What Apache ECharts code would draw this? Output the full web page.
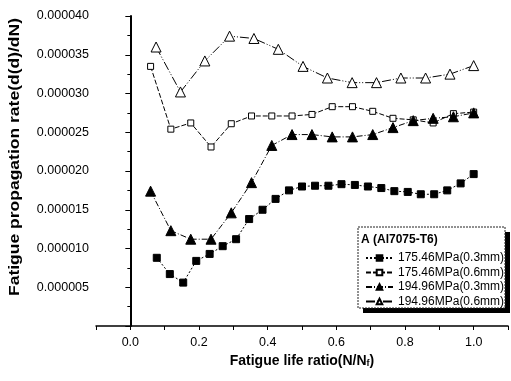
<!DOCTYPE html>
<html>
<head>
<meta charset="utf-8">
<script src="https://cdn.jsdelivr.net/npm/echarts@6/dist/echarts.min.js"></script>
<style>
  html, body { margin: 0; padding: 0; background: #fff; }
  #chart { width: 511px; height: 381px; }
</style>
</head>
<body>
<div id="chart"></div>
<script>
// Fatigue life ratio N/Nf for each test series
const ratio175_03 = [0.077, 0.115, 0.154, 0.192, 0.231, 0.269, 0.308, 0.346, 0.385, 0.423,
  0.462, 0.500, 0.538, 0.577, 0.615, 0.654, 0.692, 0.731, 0.769, 0.808, 0.846, 0.885, 0.923, 0.962, 1.000];
const ratio17pts = [0.059, 0.118, 0.176, 0.235, 0.294, 0.353, 0.412, 0.471, 0.529, 0.588,
  0.647, 0.706, 0.765, 0.824, 0.882, 0.941, 1.000];
const ratio195_06 = [0.075, 0.146, 0.217, 0.289, 0.360, 0.431, 0.503, 0.574, 0.646, 0.717,
  0.788, 0.860, 0.931, 1.000];

// Crack propagation rate d(d)/dN
const rate175_03 = [8.8e-6, 6.7e-6, 5.6e-6, 8.4e-6, 9.3e-6, 10.3e-6, 11.2e-6, 13.8e-6, 15.0e-6, 16.4e-6,
  17.5e-6, 18.0e-6, 18.1e-6, 18.1e-6, 18.3e-6, 18.2e-6, 18.0e-6, 17.8e-6, 17.4e-6, 17.3e-6,
  17.0e-6, 17.0e-6, 17.5e-6, 18.4e-6, 19.6e-6];
const rate175_06 = [33.5e-6, 25.4e-6, 26.2e-6, 23.1e-6, 26.1e-6, 27.1e-6, 27.1e-6, 27.1e-6, 27.3e-6,
  28.3e-6, 28.3e-6, 27.7e-6, 26.8e-6, 26.6e-6, 26.2e-6, 27.4e-6, 27.6e-6];
const rate195_03 = [17.4e-6, 12.3e-6, 11.2e-6, 11.2e-6, 14.6e-6, 18.5e-6, 23.3e-6, 24.7e-6, 24.7e-6,
  24.4e-6, 24.4e-6, 24.7e-6, 25.6e-6, 26.5e-6, 26.8e-6, 27.0e-6, 27.5e-6];
const rate195_06 = [36.0e-6, 30.2e-6, 34.2e-6, 37.4e-6, 37.1e-6, 35.7e-6, 33.5e-6, 32.0e-6, 31.4e-6,
  31.4e-6, 32.0e-6, 32.0e-6, 32.5e-6, 33.6e-6];

const seriesNames = ['175.46MPa(0.3mm)', '175.46MPa(0.6mm)', '194.96MPa(0.3mm)', '194.96MPa(0.6mm)'];
const legendTitle = 'A (Al7075-T6)';
const xTitle = 'Fatigue life ratio(N/N{sub|f})';
const yTitle = 'Fatigue propagation rate(d(d)/dN)';

const pairs = (xs, ys) => xs.map((x, i) => [x, ys[i]]);
const FONT = '"Liberation Sans", Arial, sans-serif';

function lineSeries(name, data, symbol, size, filled, dash) {
  return {
    name: name,
    type: 'line',
    data: data,
    symbol: symbol,
    symbolSize: size,
    showSymbol: true,
    itemStyle: { color: filled ? '#000' : '#fff', borderColor: '#000', borderWidth: 1 },
    lineStyle: { color: '#000', width: 1, type: dash },
    emphasis: { disabled: true },
    z: 3
  };
}

const chart = echarts.init(document.getElementById('chart'), null, { renderer: 'canvas' });
chart.setOption({
  backgroundColor: '#fff',
  animation: false,
  grid: { left: 96, top: 16, right: -3, bottom: 55 },
  xAxis: {
    type: 'value',
    min: -0.1,
    max: 1.1,
    interval: 0.1,
    name: xTitle,
    nameLocation: 'middle',
    nameGap: 23,
    nameTextStyle: {
      fontFamily: FONT, fontSize: 14, fontWeight: 'bold', color: '#000',
      rich: { sub: { fontFamily: FONT, fontSize: 9, fontWeight: 'bold', color: '#000', verticalAlign: 'bottom', padding: [6, 0, 0, 0] } }
    },
    axisLine: { onZero: false, lineStyle: { color: '#000', width: 1.5 } },
    axisTick: { show: true, length: 4, lineStyle: { color: '#000', width: 1 } },
    axisLabel: {
      margin: 10,
      fontFamily: FONT, fontSize: 12.5, color: '#000',
      formatter: function (v) {
        const k = Math.round(v * 10);
        return (k >= 0 && k % 2 === 0 && k <= 10) ? (k / 10).toFixed(1) : '';
      }
    },
    splitLine: { show: false }
  },
  yAxis: {
    type: 'value',
    min: 0,
    max: 40e-6,
    interval: 5e-6,
    axisLine: { show: true, lineStyle: { color: '#000', width: 2 } },
    axisTick: { show: true, length: 5, lineStyle: { color: '#000', width: 1 } },
    minorTick: { show: true, splitNumber: 2, length: 3, lineStyle: { color: '#000', width: 1 } },
    axisLabel: {
      margin: 7,
      fontFamily: FONT, fontSize: 12.5, color: '#000',
      formatter: function (v) { return v === 0 ? '' : v.toFixed(6); }
    },
    splitLine: { show: false }
  },
  legend: {
    show: true,
    orient: 'vertical',
    left: 360,
    top: 246,
    itemWidth: 27,
    itemHeight: 7,
    itemGap: 0.5,
    z: 10,
    selectedMode: false,
    textStyle: { fontFamily: FONT, fontSize: 12, color: '#000', lineHeight: 14 },
    data: seriesNames
  },
  graphic: [
    // legend frame with drop shadow
    { type: 'rect', z: 5, shape: { x: 363, y: 232, width: 147, height: 81 }, style: { fill: '#000' } },
    { type: 'rect', z: 6, shape: { x: 358, y: 227, width: 147, height: 81 },
      style: { fill: '#fff', stroke: '#222', lineWidth: 1, lineDash: [2, 1] } },
    { type: 'text', z: 7, x: 361, y: 240,
      style: { text: legendTitle, font: 'bold 12px ' + FONT, fill: '#000', align: 'left', verticalAlign: 'middle' } },
    // vertical axis title
    { type: 'text', z: 7, x: 15, y: 157, rotation: Math.PI / 2, scaleX: 1.25,
      style: { text: yTitle, font: 'bold 14px ' + FONT, fill: '#000', align: 'center', verticalAlign: 'middle' } }
  ],
  series: [
    lineSeries(seriesNames[0], pairs(ratio175_03, rate175_03), 'rect', 7, true, [2, 2]),
    lineSeries(seriesNames[1], pairs(ratio17pts, rate175_06), 'rect', 6, false, [5, 2]),
    lineSeries(seriesNames[2], pairs(ratio17pts, rate195_03), 'triangle', 10, true, [6, 2, 1, 2]),
    lineSeries(seriesNames[3], pairs(ratio195_06, rate195_06), 'triangle', 10, false, [9, 2, 1, 2, 1, 2])
  ]
});
</script>
</body>
</html>
